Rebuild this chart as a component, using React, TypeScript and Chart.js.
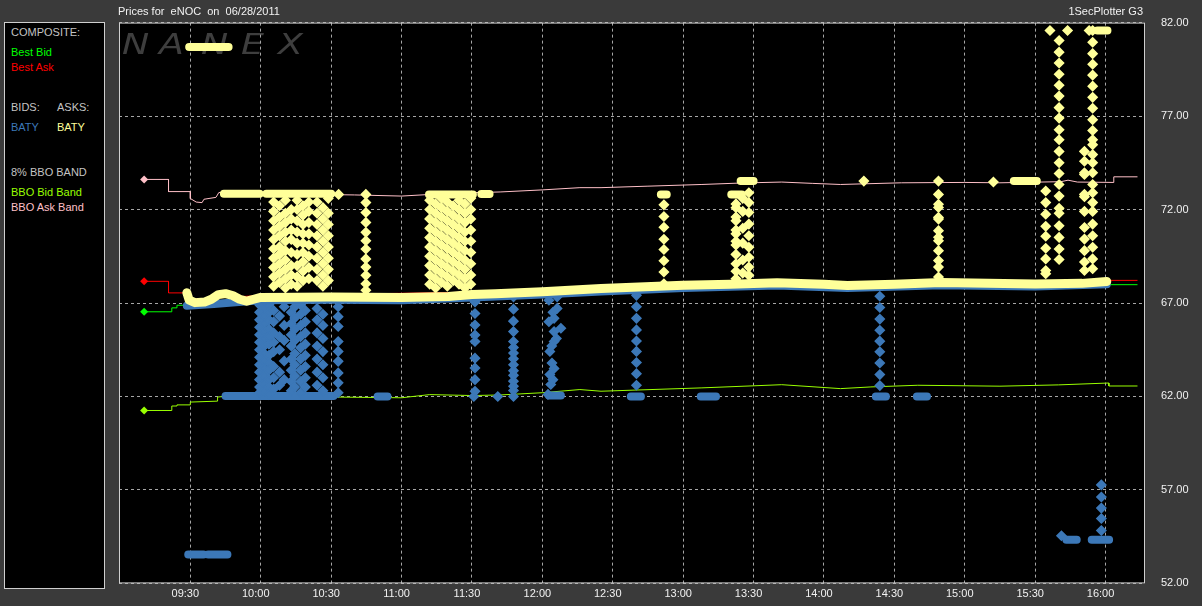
import React, { useEffect, useRef } from "react";
import { Chart, registerables } from "chart.js";

Chart.register(...registerables);

// ---------- axes ----------
const X_MIN = 539.6; // minutes after midnight
const X_MAX = 976.8;
const xTickMinutes = [570, 600, 630, 660, 690, 720, 750, 780, 810, 840, 870, 900, 930, 960];
const yTickValues = [52, 57, 62, 67, 72, 77, 82];

// ---------- colours ----------
const YEL = "#ffff99";
const BLUE = "#3c78b8";
const PINK = "#ffc0c8";
const LIME = "#99ff00";
const GREEN = "#00ff00";
const RED = "#ff0000";

// ---------- composite / band lines [minute, price] ----------
const bestBid: [number, number][] = [
  [550.3, 66.53], [562.1, 66.53], [562.1, 66.74], [564.3, 66.74], [564.3, 66.88], [570.3, 66.88],
  [570.3, 66.97], [600, 67.05], [700, 67.35], [800, 67.8], [900, 67.9], [961.4, 68.09],
  [961.4, 67.98], [973.6, 67.98],
];
const bestAsk: [number, number][] = [
  [550.3, 68.16], [560.7, 68.16], [560.7, 67.54], [569.5, 67.54], [570, 67.2], [600, 67.4],
  [700, 67.6], [800, 68.05], [900, 68.1], [961.4, 68.2], [961.4, 68.21], [973.6, 68.21],
];
const bboAskBand: [number, number][] = [
  [550.3, 73.61], [560.7, 73.61], [560.7, 72.96], [570, 72.96], [570, 72.59], [572.5, 72.4],
  [575, 72.37], [575.8, 72.55], [580.9, 72.65], [582.2, 72.92], [588.6, 72.7], [592, 72.78],
  [600, 72.8], [617, 72.82], [640, 72.78], [660, 72.72], [681, 72.87], [702, 72.94], [720, 73.05],
  [736, 73.17], [745, 73.17], [765, 73.25], [788, 73.34], [805, 73.42], [822, 73.47], [835, 73.4],
  [847, 73.34], [873, 73.43], [900, 73.45], [915, 73.43], [941, 73.49], [944, 73.57], [948, 73.47],
  [963.5, 73.45], [963.5, 73.75], [973.6, 73.75],
];
const bboBidBand: [number, number][] = [
  [550.3, 61.25], [562.1, 61.25], [562.1, 61.49], [564.3, 61.49], [564.3, 61.55], [570, 61.55],
  [570, 61.7], [581.6, 61.75], [581.6, 61.97], [586, 62.02], [597, 61.87], [600, 61.95], [630, 61.97],
  [660, 61.93], [672, 62.1], [690, 62.05], [702, 62.08], [720, 62.2], [736, 62.37], [745, 62.28],
  [788, 62.46], [822, 62.63], [847, 62.42], [860, 62.51], [880, 62.6], [915, 62.55], [940, 62.62],
  [961.4, 62.72], [961.4, 62.56], [973.6, 62.56],
];

// ---------- BATY asks (yellow) ----------
const askTrail: [number, number][] = [
  [568.5, 67.55], [569.5, 67.15], [572, 67.02], [576, 67.05], [579, 67.2], [582, 67.45], [585, 67.5],
  [588, 67.4], [591, 67.2], [594, 67.1], [597, 67.2], [600, 67.3], [630, 67.32], [660, 67.3],
  [680, 67.35], [690, 67.45], [700, 67.5], [720, 67.6], [745, 67.77], [780, 67.95], [800, 68.0],
  [820, 68.08], [840, 68.0], [850, 67.93], [870, 68.0], [890, 68.1], [910, 68.05], [930, 68.02],
  [950, 68.05], [960.5, 68.15],
];
const askRuns: [number, number, number][] = [
  [569.5, 586.3, 80.69], [584.3, 599.5, 72.85], [602.4, 630, 72.85], [671.7, 690.4, 72.81],
  [694, 697.5, 72.83], [770.5, 773, 72.81], [800.5, 805, 72.81], [804.5, 810, 73.52],
  [920.9, 930.7, 73.52], [956.5, 960.8, 81.58],
];
const askSingles: [number, number][] = [
  [633.2, 72.81], [857, 73.52], [912.2, 73.47], [936.3, 81.58], [943.8, 81.58], [953, 81.58],
];
const askCluster1015: [number, number[]][] = [
  [605.5, [72.4, 71.9, 71.4, 70.9, 70.4, 69.9, 69.4, 68.9, 68.4, 67.9]],
  [608, [72.2, 71.6, 71.1, 70.6, 70.0, 69.6, 69.1, 68.6, 68.1]],
  [610.5, [72.5, 71.8, 71.3, 70.8, 70.3, 69.8, 69.3, 68.8, 68.3, 67.8]],
  [613, [72.0, 71.5, 70.9, 70.4, 69.7, 69.0, 68.5, 68.0]],
  [615.5, [72.5, 72.0, 71.4, 70.8, 70.2, 69.6, 69.0, 68.4, 67.9]],
  [618, [72.2, 71.7, 71.2, 70.7, 70.2, 69.7, 69.2, 68.7, 68.2]],
  [620.5, [72.4, 71.9, 71.3, 70.7, 70.1, 69.5, 68.9, 68.3]],
  [624, [72.4, 71.8, 71.2, 70.6, 70.0, 69.4, 68.8, 68.2]],
  [626.5, [72.1, 71.5, 70.9, 70.3, 69.7, 69.1, 68.5, 67.9]],
  [628.8, [72.6, 71.8, 71.2, 70.6, 70.0, 69.4, 68.8, 68.2]],
];
const askCluster1120: [number, number[]][] = [
  [672, [72.5, 72.0, 71.5, 71.0, 70.5, 70.0, 69.5, 69.0, 68.5, 68.0]],
  [674.5, [72.3, 71.8, 71.3, 70.8, 70.3, 69.8, 69.3, 68.8, 68.3, 67.8]],
  [677, [72.6, 72.1, 71.6, 71.1, 70.6, 70.1, 69.6, 69.1, 68.6, 68.1]],
  [679.5, [72.4, 71.9, 71.4, 70.9, 70.4, 69.9, 69.4, 68.9, 68.4, 67.9]],
  [682, [72.2, 71.7, 71.2, 70.7, 70.2, 69.7, 69.2, 68.7, 68.2]],
  [684.5, [72.5, 72.0, 71.5, 71.0, 70.5, 70.0, 69.5, 69.0, 68.5, 68.0]],
  [687, [72.3, 71.8, 71.3, 70.8, 70.3, 69.8, 69.3, 68.8, 68.3, 67.8]],
  [689.5, [72.6, 72.0, 71.5, 70.9, 70.3, 69.7, 69.1, 68.5, 68.0]],
];
const askColumns: [number, number[]][] = [
  [644.8, [72.81, 72.37, 71.84, 71.31, 70.78, 70.33, 69.89, 69.36, 68.92, 68.48, 68.03, 67.68]],
  [771.8, [72.25, 71.63, 71.05, 70.41, 69.86, 69.26, 68.66, 68.03]],
  [802.5, [72.3, 72.1, 71.6, 71.4, 70.9, 70.7, 70.3, 70.1, 69.6, 69.1, 68.7, 68.3]],
  [805.4, [72.6, 71.9, 71.0, 70.2, 69.3, 68.6]],
  [808, [72.9, 72.37, 71.84, 71.22, 70.6, 69.98, 69.45, 68.92, 68.48]],
  [888.8, [73.52, 72.81, 72.28, 72.11, 71.58, 71.49, 70.87, 70.52, 70.33, 69.8, 69.27, 68.92, 68.39]],
  [934.5, [72.99, 72.37, 71.75, 71.1, 70.57, 69.93, 69.36, 68.74, 68.57]],
  [940.2, [81.04, 80.42, 79.84, 79.24, 78.65, 78.07, 77.45, 76.89, 76.27, 75.73, 75.11, 74.5, 73.93,
    73.34, 72.72, 72.07, 71.8, 71.13, 70.51, 69.89, 69.33]],
  [951, [75.11, 74.58, 73.97, 73.88, 72.81, 72.69, 71.9, 71.04, 70.42, 69.8, 69.19, 68.74]],
  [954.5, [81.58, 80.95, 80.34, 79.77, 79.19, 78.6, 78.0, 77.42, 76.8, 76.23, 75.73, 75.47, 74.94,
    74.5, 73.97, 73.34, 72.9, 72.37, 71.9, 71.22, 70.6, 69.98, 69.36, 68.83]],
];

// ---------- BATY bids (blue) ----------
const bidTrail: [number, number][] = [
  [568.5, 66.85], [580, 66.95], [600, 67.15], [630, 67.17], [660, 67.15], [690, 67.3], [720, 67.45],
  [745, 67.62], [780, 67.8], [820, 67.93], [850, 67.8], [890, 67.95], [930, 67.88], [960.5, 68.0],
];
const bidRuns: [number, number, number][] = [
  [585, 631, 62.02], [649.8, 654, 62.0], [722.8, 727.9, 62.05], [757.7, 762, 62.0], [787.5, 794, 62.0],
  [862.1, 866.4, 62.0], [879.6, 883.9, 62.0], [569.1, 575.6, 53.54], [577.6, 585.8, 53.54],
  [943.3, 947.7, 54.34], [954.1, 961.5, 54.34],
];
const bidSingles: [number, number][] = [
  [701, 62.0], [690.8, 62.0], [941.2, 54.55],
  [726.3, 67.33], [722.8, 67.15], [726.3, 66.71], [725, 66.18], [722.8, 66.0], [727.9, 65.65],
  [725, 65.47], [725, 64.94], [723.2, 64.41], [724.1, 63.79], [723.2, 63.17], [723.6, 62.64],
  [722.4, 62.11], [724.5, 66.5], [726, 65.1], [724, 64.7], [725, 63.5], [724.5, 62.9],
];
const bidCluster1015: [number, number[]][] = [
  [599.5, [66.9, 66.5, 66.1, 65.7, 65.3, 64.9, 64.5, 64.1, 63.7, 63.3, 62.9, 62.5, 62.2]],
  [601.5, [66.7, 66.3, 65.9, 65.5, 65.1, 64.7, 64.3, 63.9, 63.5, 63.1, 62.7, 62.3]],
  [603.5, [66.9, 66.5, 66.1, 65.6, 65.2, 64.8, 64.2, 63.8, 63.4, 62.9, 62.5, 62.1]],
  [605.5, [66.6, 66.0, 65.4, 64.9, 64.4, 63.6, 63.0, 62.4]],
  [608, [66.3, 65.2, 64.5, 63.3, 62.6]],
  [610, [66.8, 65.8, 65.0, 63.9, 62.9]],
  [613, [66.5, 65.9, 65.3, 64.7, 64.0, 63.4, 62.8, 62.3]],
  [614.5, [66.8, 66.2, 65.6, 65.0, 64.3, 63.7, 63.1, 62.5]],
  [617, [66.9, 66.4, 65.8, 65.2, 64.6, 64.0, 63.4, 62.8, 62.2]],
  [619, [66.6, 66.0, 65.4, 64.8, 64.2, 63.6, 63.0, 62.5]],
  [624, [66.7, 66.1, 65.4, 64.7, 64.0, 63.3, 62.6]],
  [626.5, [66.4, 65.8, 65.1, 64.4, 63.7, 63.0, 62.3]],
  [633, [66.8, 66.27, 65.74, 64.94, 64.41, 63.88, 63.26, 62.73, 62.2]],
];
const bidColumns: [number, number[]][] = [
  [691.3, [67.06, 66.44, 65.82, 65.29, 64.94, 64.05, 63.52, 62.9, 62.28]],
  [707.7, [67.33, 66.67, 66.03, 65.47, 64.94, 64.62, 64.32, 64.02, 63.7, 63.38, 63.13, 62.82, 62.55, 62.32, 62.0]],
  [760.1, [67.41, 66.8, 66.18, 65.56, 64.97, 64.41, 63.82, 63.22, 62.6]],
  [863.8, [67.36, 66.76, 66.14, 65.54, 64.96, 64.39, 63.79, 63.17, 62.58]],
  [958.2, [57.27, 56.62, 56.03, 55.47, 54.83]],
];

// ---------- legend / titles ----------
const titleLeft = "Prices for  eNOC  on  06/28/2011";
const titleRight = "1SecPlotter G3";
const legendItems: { text: string; x: number; y: number; color: string }[] = [
  { text: "COMPOSITE:", x: 11, y: 32, color: "#c4c4c4" },
  { text: "Best Bid", x: 11, y: 52, color: GREEN },
  { text: "Best Ask", x: 11, y: 67, color: RED },
  { text: "BIDS:", x: 11, y: 107, color: "#c4c4c4" },
  { text: "ASKS:", x: 57, y: 107, color: "#c4c4c4" },
  { text: "BATY", x: 11, y: 127, color: BLUE },
  { text: "BATY", x: 57, y: 127, color: YEL },
  { text: "8% BBO BAND", x: 11, y: 172, color: "#c4c4c4" },
  { text: "BBO Bid Band", x: 11, y: 192, color: LIME },
  { text: "BBO Ask Band", x: 11, y: 207, color: PINK },
];
const watermark = ["N", "A", "N", "E", "X"];
const watermarkX = [122, 159, 201, 241, 278];

const FONT = '"Liberation Sans", Arial, sans-serif';

const toXY = (pairs: [number, number][]) => pairs.map(([x, y]) => ({ x, y }));
const runsToXY = (runs: [number, number, number][]) =>
  runs.flatMap(([a, b, p]) => [{ x: a, y: p }, { x: b, y: p }, { x: b, y: null as any }]);
const colsToXY = (cols: [number, number[]][]) => cols.flatMap(([t, ps]) => ps.map((p) => ({ x: t, y: p })));
const fmt = (m: number) =>
  `${String(Math.floor(m / 60)).padStart(2, "0")}:${String(Math.round(m % 60)).padStart(2, "0")}`;

const bgPlugin = {
  id: "nanexBg",
  beforeDraw(chart: any) {
    const { ctx, chartArea: a } = chart;
    ctx.save();
    ctx.fillStyle = "#3a3a3a";
    ctx.fillRect(0, 0, chart.width, chart.height);
    ctx.fillStyle = "#000000";
    ctx.fillRect(a.left, a.top, a.right - a.left, a.bottom - a.top);
    ctx.fillStyle = "#3e3e3e";
    ctx.font = `italic 28px "DejaVu Sans", sans-serif`;
    ctx.textBaseline = "alphabetic";
    watermark.forEach((ch, i) => {
      ctx.save();
      ctx.translate(watermarkX[i], 54);
      ctx.scale(1.3, 1);
      ctx.fillText(ch, 0, 0);
      ctx.restore();
    });
    ctx.restore();
  },
  afterDraw(chart: any) {
    const { ctx, chartArea: a } = chart;
    ctx.save();
    ctx.strokeStyle = "#cfcfcf";
    ctx.lineWidth = 1;
    ctx.strokeRect(a.left + 0.5, a.top + 0.5, a.right - a.left - 1, a.bottom - a.top - 1);
    ctx.restore();
  },
};

const pointSet = (data: any[], color: string, r: number) => ({
  data,
  showLine: false,
  pointStyle: "rectRot",
  pointRadius: r,
  pointBackgroundColor: color,
  pointBorderColor: color,
  pointBorderWidth: 1.5,
});
const runSet = (data: any[], color: string, w: number) => ({
  data,
  borderColor: color,
  borderWidth: w,
  borderCapStyle: "round",
  borderJoinStyle: "round",
  pointRadius: 0,
  spanGaps: false,
});
const bandLine = (pairs: [number, number][], color: string) => ({
  data: toXY(pairs),
  borderColor: color,
  borderWidth: 1,
  pointStyle: "rectRot",
  pointRadius: (c: any) => (c.dataIndex === 0 ? 4 : 0),
  pointBackgroundColor: color,
  pointBorderColor: color,
  pointBorderWidth: 0,
});

export default function App() {
  const ref = useRef<HTMLCanvasElement | null>(null);

  useEffect(() => {
    document.body.style.margin = "0";
    const canvas = ref.current;
    if (!canvas) return;
    const datasets: any[] = [
      { ...pointSet(colsToXY(askCluster1015), YEL, 4.5), order: 0 },
      { ...pointSet(colsToXY(askCluster1120), YEL, 4.5), order: 0 },
      { ...pointSet(colsToXY(askColumns), YEL, 4.5), order: 0 },
      { ...pointSet(toXY(askSingles), YEL, 4.5), order: 0 },
      { ...runSet(runsToXY(askRuns), YEL, 8), order: 0 },
      { ...runSet(toXY(askTrail), YEL, 9), order: 0 },
      { ...runSet(toXY(bidTrail), BLUE, 8), order: 1 },
      { ...pointSet(colsToXY(bidCluster1015), BLUE, 4.5), order: 1 },
      { ...pointSet(colsToXY(bidColumns), BLUE, 4.5), order: 1 },
      { ...pointSet(toXY(bidSingles), BLUE, 4.5), order: 1 },
      { ...runSet(runsToXY(bidRuns), BLUE, 8), order: 1 },
      { ...bandLine(bboAskBand, PINK), order: 2 },
      { ...bandLine(bboBidBand, LIME), order: 2 },
      { ...bandLine(bestAsk, RED), order: 3 },
      { ...bandLine(bestBid, GREEN), order: 3 },
    ];
    const gridCommon = { color: "#a6a6a6", lineWidth: 1, drawTicks: false };
    const borderCommon = { display: false, dash: [3, 3] };
    const tickFont = { family: FONT, size: 11 };
    const chart = new Chart(canvas, {
      type: "line",
      data: { datasets },
      options: {
        responsive: false,
        animation: false,
        devicePixelRatio: 1,
        events: [],
        layout: { padding: { left: 119, top: 22, right: 0, bottom: 0 } },
        plugins: { legend: { display: false }, tooltip: { enabled: false }, title: { display: false } },
        scales: {
          x: {
            type: "linear",
            min: X_MIN,
            max: X_MAX,
            afterBuildTicks: (s: any) => {
              s.ticks = xTickMinutes.map((v) => ({ value: v }));
            },
            afterFit: (s: any) => {
              s.height = 19;
            },
            grid: gridCommon,
            border: borderCommon,
            ticks: {
              color: "#f2f2f2",
              font: tickFont,
              padding: 4,
              labelOffset: -5,
              maxRotation: 0,
              autoSkip: false,
              callback: (v: any) => fmt(Number(v)),
            },
          },
          y: {
            type: "linear",
            position: "right",
            min: 52,
            max: 82,
            afterBuildTicks: (s: any) => {
              s.ticks = yTickValues.map((v) => ({ value: v }));
            },
            afterFit: (s: any) => {
              s.width = 57;
            },
            grid: gridCommon,
            border: borderCommon,
            ticks: {
              color: "#f2f2f2",
              font: tickFont,
              padding: 16,
              callback: (v: any) => Number(v).toFixed(2),
            },
          },
        },
      } as any,
      plugins: [bgPlugin],
    });
    return () => chart.destroy();
  }, []);

  const textStyle = (x: number, y: number, color: string): React.CSSProperties => ({
    position: "absolute",
    left: x,
    top: y - 7,
    lineHeight: "14px",
    fontSize: 11,
    fontFamily: FONT,
    color,
    whiteSpace: "pre",
  });

  return (
    <div style={{ position: "relative", width: 1202, height: 606, overflow: "hidden", background: "#3a3a3a" }}>
      <canvas ref={ref} width={1202} height={606} style={{ position: "absolute", left: 0, top: 0 }} />
      <div style={textStyle(118, 11, "#f2f2f2")}>{titleLeft}</div>
      <div style={{ ...textStyle(0, 11, "#f2f2f2"), left: "auto", right: 59 }}>{titleRight}</div>
      <div
        style={{
          position: "absolute",
          left: 4,
          top: 22,
          width: 99,
          height: 565,
          background: "#000",
          border: "1px solid #cfcfcf",
        }}
      />
      {legendItems.map((it, i) => (
        <div key={i} style={textStyle(it.x, it.y, it.color)}>
          {it.text}
        </div>
      ))}
    </div>
  );
}
